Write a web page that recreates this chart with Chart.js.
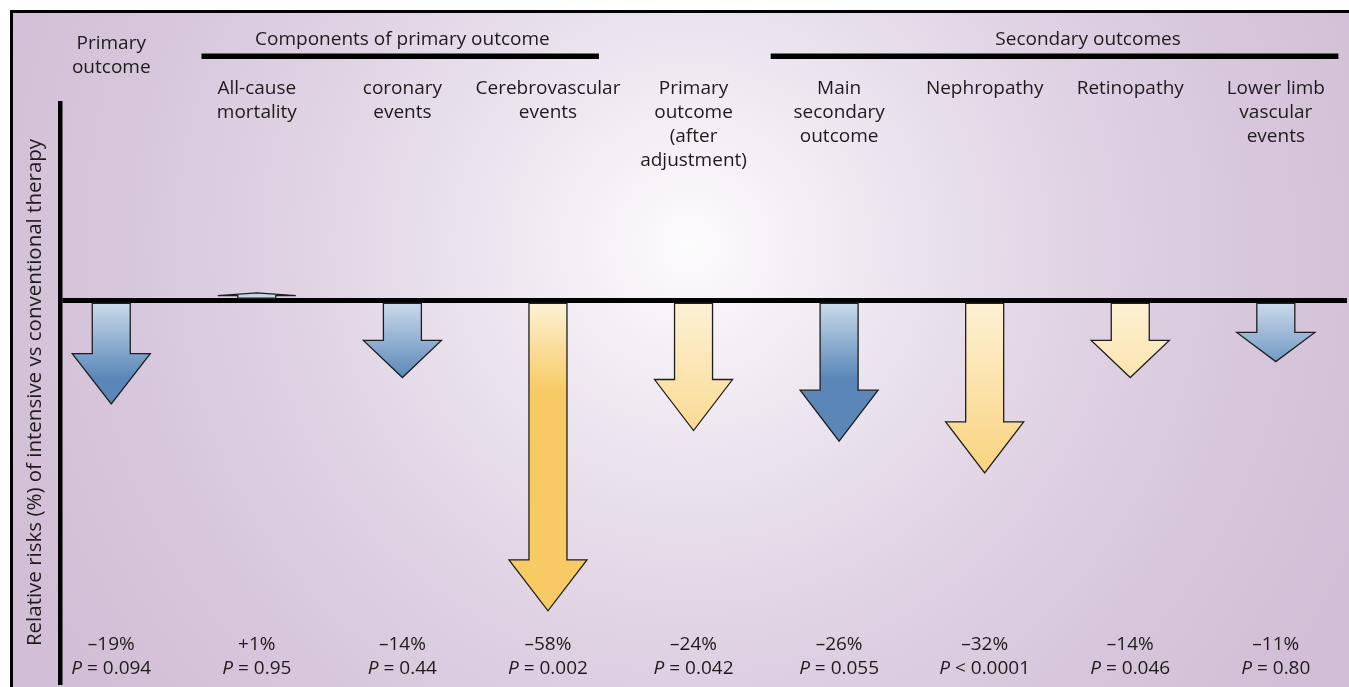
<!DOCTYPE html>
<html>
<head>
<meta charset="utf-8">
<script src="https://cdn.jsdelivr.net/npm/chart.js@4.4.1/dist/chart.umd.min.js"></script>
<style>
html,body{margin:0;padding:0;background:#fff;overflow:hidden}
#wrap{position:relative;width:1349px;height:687px}
canvas{display:block}
</style>
</head>
<body>
<div id="wrap"><canvas id="c" width="1349" height="687"></canvas></div>
<script>
// ---------------- DATA ----------------
const categories = [
  ['Primary', 'outcome'],
  ['All-cause', 'mortality'],
  ['coronary', 'events'],
  ['Cerebrovascular', 'events'],
  ['Primary', 'outcome', '(after', 'adjustment)'],
  ['Main', 'secondary', 'outcome'],
  ['Nephropathy'],
  ['Retinopathy'],
  ['Lower limb', 'vascular', 'events']
];
const relativeRiskChange = [-19, 1, -14, -58, -24, -26, -32, -14, -11];
const pValueText = ['= 0.094', '= 0.95', '= 0.44', '= 0.002', '= 0.042', '= 0.055', '< 0.0001', '= 0.046', '= 0.80'];
const groupLabels = ['Components of primary outcome', 'Secondary outcomes'];
const groupFirst = [1, 5];
const groupLast = [3, 8];
const yAxisTitle = 'Relative risks (%) of intensive vs conventional therapy';

// ---------------- STYLE ----------------
const FONT = '"Open Sans", "Noto Sans", sans-serif';
const TEXT_COLOR = '#1f1b1c';
const arrowTint = ['blue', 'blue', 'blue', 'gold', 'yellow', 'blue', 'yellow', 'yellow', 'blue'];
const groupLineStartPad = [0.38, 0.47];
const groupLineEndPad = [0.35, 0.43];
const groupTextShift = [0, 0.21];

function pctLabel(v) {
  return (v > 0 ? '+' : '\u2013') + Math.abs(v) + '%';
}

const bgPlugin = {
  id: 'bg',
  beforeDraw(chart) {
    const ctx = chart.ctx;
    ctx.save();
    ctx.fillStyle = '#ffffff';
    ctx.fillRect(0, 0, chart.width, chart.height);
    const g = ctx.createRadialGradient(690, 245, 0, 690, 245, 740);
    g.addColorStop(0, '#fdfcfd');
    g.addColorStop(0.1, '#f7f3f8');
    g.addColorStop(0.3, '#ebe3ee');
    g.addColorStop(0.55, '#dfd2e3');
    g.addColorStop(0.8, '#d6c5db');
    g.addColorStop(1, '#d2bfd7');
    ctx.fillStyle = g;
    ctx.fillRect(12, 12, chart.width - 12, chart.height - 12);
    ctx.strokeStyle = '#000';
    ctx.lineWidth = 3;
    ctx.beginPath();
    ctx.moveTo(11.5, chart.height);
    ctx.lineTo(11.5, 11.5);
    ctx.lineTo(chart.width, 11.5);
    ctx.stroke();
    ctx.restore();
  }
};

function arrowFill(ctx, tint, base, dir) {
  let g;
  if (tint === 'blue') {
    g = ctx.createLinearGradient(0, base, 0, base + dir * 75);
    g.addColorStop(0, '#cadaeb');
    g.addColorStop(1, '#5a87b8');
  } else if (tint === 'gold') {
    g = ctx.createLinearGradient(0, base, 0, base + dir * 88);
    g.addColorStop(0, '#fdf1d4');
    g.addColorStop(1, '#f8ca64');
  } else {
    g = ctx.createLinearGradient(0, base, 0, base + dir * 220);
    g.addColorStop(0, '#fdf1d4');
    g.addColorStop(1, '#f8ca64');
  }
  return g;
}

const arrowPlugin = {
  id: 'arrows',
  afterDatasetsDraw(chart) {
    const ctx = chart.ctx;
    const yScale = chart.scales.y;
    const zero = yScale.getPixelForValue(0);
    const meta = chart.getDatasetMeta(0);
    ctx.save();
    meta.data.forEach((el, i) => {
      const v = relativeRiskChange[i];
      const dir = v < 0 ? 1 : -1;
      const len = Math.abs(el.y - zero);
      const base = zero + dir * 2.5;
      const tip = base + dir * len;
      const head = Math.min(51, 0.5 * len);
      const neck = tip - dir * head;
      const hs = 19, hh = 39;
      const x = el.x;
      ctx.beginPath();
      ctx.moveTo(x - hs, base);
      ctx.lineTo(x - hs, neck);
      ctx.lineTo(x - hh, neck);
      ctx.lineTo(x, tip);
      ctx.lineTo(x + hh, neck);
      ctx.lineTo(x + hs, neck);
      ctx.lineTo(x + hs, base);
      ctx.closePath();
      ctx.fillStyle = arrowFill(ctx, arrowTint[i], base, dir);
      ctx.fill();
      ctx.lineWidth = 1.3;
      ctx.lineJoin = 'miter';
      ctx.strokeStyle = '#1e1e1e';
      ctx.stroke();
    });
    ctx.restore();
  }
};

const textPlugin = {
  id: 'texts',
  afterDraw(chart) {
    const ctx = chart.ctx;
    const xs = chart.scales.x;
    ctx.save();
    ctx.fillStyle = TEXT_COLOR;
    ctx.textAlign = 'center';
    ctx.textBaseline = 'alphabetic';
    ctx.font = '19px ' + FONT;
    groupLabels.forEach((lab, g) => {
      const x1 = xs.getPixelForValue(groupFirst[g] - groupLineStartPad[g]);
      const x2 = xs.getPixelForValue(groupLast[g] + groupLineEndPad[g]);
      const mid = xs.getPixelForValue((groupFirst[g] + groupLast[g]) / 2 + groupTextShift[g]);
      ctx.fillText(lab, mid, 45);
      ctx.fillStyle = '#000';
      ctx.fillRect(x1, 53.5, x2 - x1, 5.5);
      ctx.fillStyle = TEXT_COLOR;
    });
    categories.forEach((lines, i) => {
      const cx = xs.getPixelForValue(i);
      const top = i === 0 ? 49 : 94;
      lines.forEach((t, k) => ctx.fillText(t, cx, top + 24 * k));
    });
    relativeRiskChange.forEach((v, i) => {
      const cx = xs.getPixelForValue(i);
      ctx.textAlign = 'center';
      ctx.font = '19px ' + FONT;
      ctx.fillText(pctLabel(v), cx, 650);
      const rest = ' ' + pValueText[i];
      ctx.font = 'italic 19px ' + FONT;
      const w1 = ctx.measureText('P').width;
      ctx.font = '19px ' + FONT;
      const w2 = ctx.measureText(rest).width;
      const sx = cx - (w1 + w2) / 2;
      ctx.textAlign = 'left';
      ctx.font = 'italic 19px ' + FONT;
      ctx.fillText('P', sx, 674);
      ctx.font = '19px ' + FONT;
      ctx.fillText(rest, sx + w1, 674);
    });
    ctx.restore();
  }
};

const Y_MIN = -71.9, Y_MAX = 37.3;
const X_MIN = -0.349, X_MAX = 8.489;

function draw() {
  new Chart(document.getElementById('c'), {
    type: 'scatter',
    data: {
      datasets: [{
        data: relativeRiskChange.map((v, i) => ({ x: i, y: v })),
        pointRadius: 0,
        pointHoverRadius: 0
      }]
    },
    options: {
      responsive: false,
      animation: false,
      events: [],
      layout: { padding: { left: 11, top: 103, right: 2, bottom: 5 } },
      plugins: { legend: { display: false }, tooltip: { enabled: false } },
      scales: {
        x: { type: 'linear', min: X_MIN, max: X_MAX, display: false },
        y: {
          type: 'linear', min: Y_MIN, max: Y_MAX,
          afterBuildTicks: s => { s.ticks = [{ value: 0 }]; },
          ticks: { display: false },
          grid: { display: true, drawTicks: false, color: '#000', lineWidth: 5 },
          border: { display: true, color: '#000', width: 4.5 },
          title: {
            display: true, text: yAxisTitle, color: TEXT_COLOR,
            font: { family: FONT, size: 20.5, lineHeight: 1.1 },
            padding: { top: 12.7, bottom: 14.2 }
          }
        }
      }
    },
    plugins: [bgPlugin, arrowPlugin, textPlugin]
  });
}
if (document.fonts && document.fonts.load) {
  Promise.all([
    document.fonts.load('19px "Open Sans"'),
    document.fonts.load('italic 19px "Open Sans"')
  ]).then(draw, draw);
} else { draw(); }
</script>
</body>
</html>
